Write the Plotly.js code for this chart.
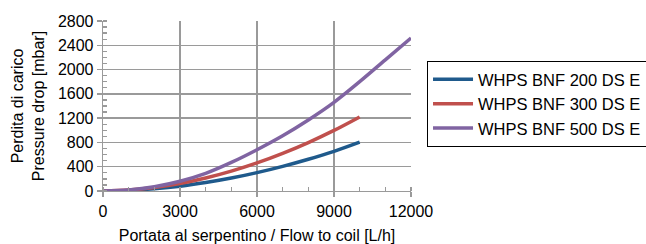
<!DOCTYPE html>
<html>
<head>
<meta charset="utf-8">
<script src="https://cdn.plot.ly/plotly-3.0.1.min.js"></script>
<style>html,body{margin:0;padding:0;background:#fff;}#chart{width:646px;height:244px;}</style>
</head>
<body>
<div id="chart"></div>
<script>
const flow200 = [0, 1000, 2000, 3000, 4000, 5000, 6000, 7000, 8000, 9000, 10000];
const drop200 = [0, 10, 38, 80, 140, 214, 303, 406, 523, 654, 805];
const flow300 = [0, 1000, 2000, 3000, 4000, 5000, 6000, 7000, 8000, 9000, 10000];
const drop300 = [0, 15, 58, 123, 214, 327, 462, 620, 798, 998, 1220];
const flow500 = [0, 1000, 2000, 3000, 4000, 5000, 6000, 7000, 8000, 9000, 10000, 11000, 12000];
const drop500 = [0, 18, 70, 160, 290, 470, 680, 910, 1170, 1460, 1800, 2160, 2520];
const seriesNames = ["WHPS BNF 200 DS E", "WHPS BNF 300 DS E", "WHPS BNF 500 DS E"];
const xTicks = [0, 3000, 6000, 9000, 12000];
const yTicks = [0, 400, 800, 1200, 1600, 2000, 2400, 2800];

const FONT = "Liberation Sans, Arial, sans-serif";
const colors = ["#1F5A8C", "#C0504D", "#8064A2"];
const xs = [flow200, flow300, flow500];
const ys = [drop200, drop300, drop500];

const traces = xs.map((x, i) => ({
  x: x, y: ys[i], name: seriesNames[i], type: "scatter", mode: "lines",
  line: {color: colors[i], width: 3.5, shape: "spline"}
}));

const layout = {
  width: 646, height: 244,
  margin: {l: 103, r: 235, t: 21, b: 53, autoexpand: false},
  paper_bgcolor: "#fff", plot_bgcolor: "#fff",
  font: {family: FONT, size: 16, color: "#000"},
  showlegend: true,
  legend: {
    x: 1.052, xanchor: "left", y: 0.765, yanchor: "top",
    bordercolor: "#000", borderwidth: 1, bgcolor: "#fff",
    font: {family: FONT, size: 16.5, color: "#000"},
    itemwidth: 40,
    tracegroupgap: 0
  },
  xaxis: {
    range: [0, 12000], tickvals: xTicks, ticktext: xTicks.map(String),
    showgrid: true, gridcolor: "#9a9a9a", gridwidth: 1.3,
    showline: true, linecolor: "#9a9a9a", linewidth: 1.3,
    ticks: "outside", ticklen: 5, tickcolor: "#9a9a9a", tickwidth: 1.3,
    minor: {dtick: 1000, ticks: "inside", ticklen: 4, tickcolor: "#9a9a9a", showgrid: false},
    zeroline: false, automargin: false,
    tickfont: {family: FONT, size: 16},
    title: {text: "Portata al serpentino / Flow to coil [L/h]", font: {family: FONT, size: 16}, standoff: 13}
  },
  yaxis: {
    range: [0, 2800], tickvals: yTicks, ticktext: yTicks.map(String),
    showgrid: true, gridcolor: "#9a9a9a", gridwidth: 1.3,
    showline: true, linecolor: "#9a9a9a", linewidth: 1.3,
    ticks: "outside", ticklen: 5, tickcolor: "#9a9a9a", tickwidth: 1.3,
    minor: {dtick: 100, ticks: "inside", ticklen: 4, tickcolor: "#9a9a9a", showgrid: false},
    zeroline: false, automargin: false,
    tickfont: {family: FONT, size: 16},
    title: {text: "Perdita di carico<br>Pressure drop [mbar]", font: {family: FONT, size: 16}, standoff: 9}
  }
};

Plotly.newPlot("chart", traces, layout, {staticPlot: true, displayModeBar: false});
</script>
</body>
</html>
